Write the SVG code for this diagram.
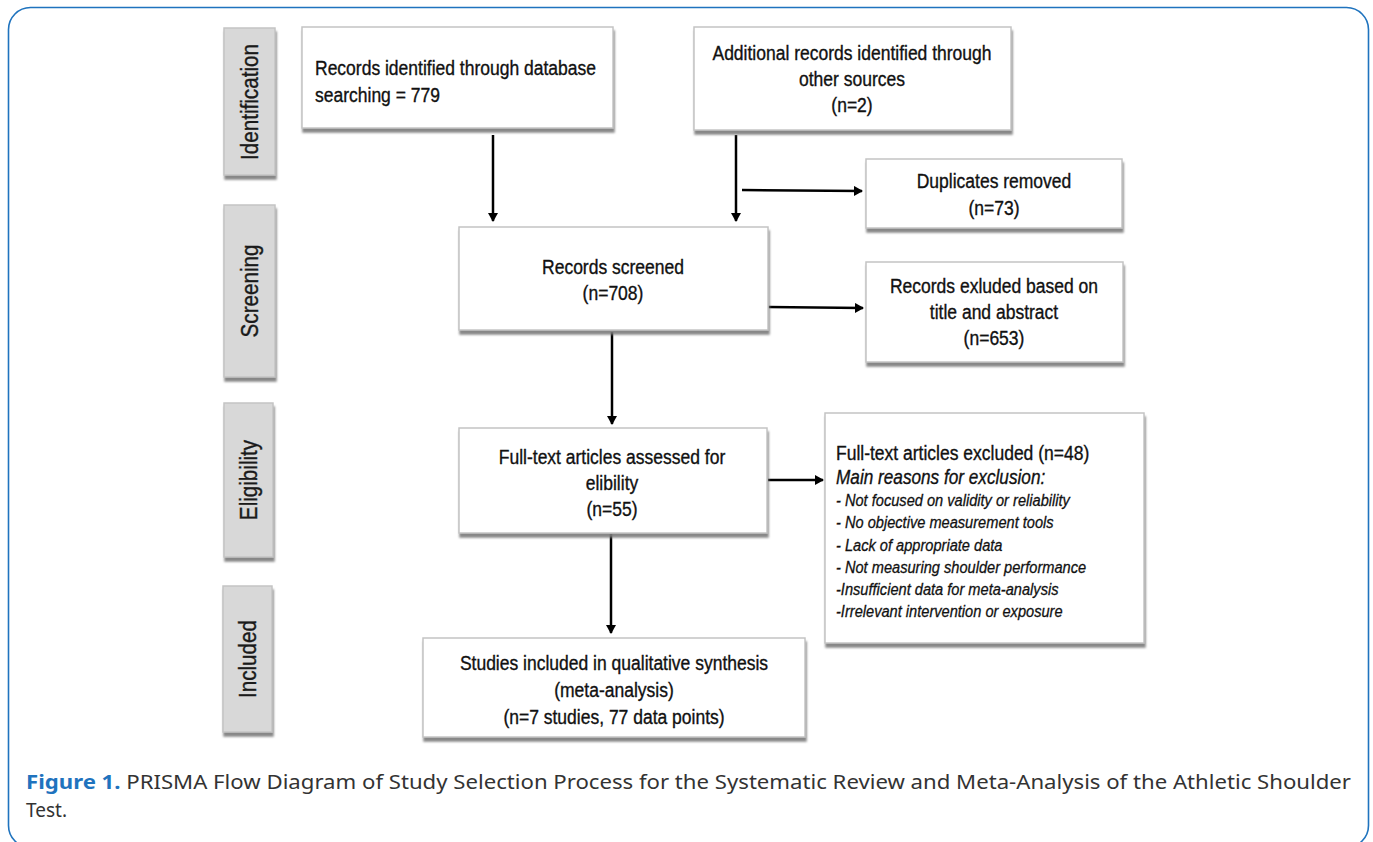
<svg xmlns="http://www.w3.org/2000/svg" width="1373" height="842" viewBox="0 0 1373 842">
<defs>
<filter id="sh" x="-10%" y="-10%" width="120%" height="130%">
<feDropShadow dx="1" dy="4" stdDeviation="1.2" flood-color="#7a7a7a" flood-opacity="0.9"/>
</filter>
<marker id="ah" markerWidth="10" markerHeight="10" refX="8" refY="5" orient="auto" markerUnits="userSpaceOnUse">
<path d="M0,0 L9,5 L0,10 z" fill="#000"/>
</marker>
<style>
.box{fill:#fff;stroke:#c4c4c4;stroke-width:1.5;filter:url(#sh)}
.phase{fill:#d8d8d8;stroke:#c4c4c4;stroke-width:1.5;filter:url(#sh)}
.t{font-family:"Liberation Sans",Arial,sans-serif;font-size:20px;fill:#111;stroke:#111;stroke-width:0.35}
.c{text-anchor:middle}
.ph{font-family:"Liberation Sans",Arial,sans-serif;font-size:24px;fill:#1a1a1a;stroke:#1a1a1a;stroke-width:0.4;text-anchor:middle}
.it{font-style:italic;font-size:17px;stroke-width:0.3}
.con{stroke:#000;stroke-width:2.5;fill:none;marker-end:url(#ah)}
.cap{font-family:"Noto Sans","Open Sans",sans-serif;font-size:19px;fill:#333}
</style>
</defs>
<rect width="1373" height="842" fill="#fff"/>
<rect x="8.5" y="7.5" width="1360" height="840" rx="22" fill="none" stroke="#1f73be" stroke-width="1.6"/>

<g id="phase-identification"><rect class="phase" x="224" y="28" width="51" height="147"/><text class="ph" transform="translate(258,102) rotate(-90) scale(0.86 1)">Identification</text></g>
<g id="phase-screening"><rect class="phase" x="224" y="205" width="51" height="172"/><text class="ph" transform="translate(258,291) rotate(-90) scale(0.86 1)">Screening</text></g>
<g id="phase-eligibility"><rect class="phase" x="224" y="403" width="49" height="154"/><text class="ph" transform="translate(257,480) rotate(-90) scale(0.86 1)">Eligibility</text></g>
<g id="phase-included"><rect class="phase" x="223" y="586" width="49" height="146"/><text class="ph" transform="translate(256,659) rotate(-90) scale(0.86 1)">Included</text></g>

<g id="connectors">
<line class="con" x1="493" y1="135" x2="493" y2="221"/>
<line class="con" x1="736" y1="135" x2="736" y2="221"/>
<line class="con" x1="742" y1="190" x2="862" y2="191"/>
<line class="con" x1="768" y1="307" x2="863" y2="308"/>
<line class="con" x1="612" y1="332" x2="612" y2="424"/>
<line class="con" x1="768" y1="480" x2="823" y2="480"/>
<line class="con" x1="611" y1="534" x2="611" y2="633"/>
</g>

<g id="records-identified"><rect class="box" x="302" y="27" width="311" height="101"/>
<text class="t" transform="translate(315 75) scale(0.875 1)">Records identified through database</text>
<text class="t" transform="translate(315 102) scale(0.875 1)">searching = 779</text></g>

<g id="additional-records"><rect class="box" x="694" y="27" width="317" height="103"/>
<text class="t c" transform="translate(852 60) scale(0.875 1)">Additional records identified through</text>
<text class="t c" transform="translate(852 86) scale(0.875 1)">other sources</text>
<text class="t c" transform="translate(852 112) scale(0.875 1)">(n=2)</text></g>

<g id="duplicates"><rect class="box" x="866" y="159" width="256" height="69"/>
<text class="t c" transform="translate(994 188) scale(0.875 1)">Duplicates removed</text>
<text class="t c" transform="translate(994 215) scale(0.875 1)">(n=73)</text></g>

<g id="records-screened"><rect class="box" x="459" y="227" width="309" height="103"/>
<text class="t c" transform="translate(613 274) scale(0.875 1)">Records screened</text>
<text class="t c" transform="translate(613 300) scale(0.875 1)">(n=708)</text></g>

<g id="records-excluded"><rect class="box" x="866" y="262" width="257" height="100"/>
<text class="t c" transform="translate(994 293) scale(0.875 1)">Records exluded based on</text>
<text class="t c" transform="translate(994 319) scale(0.875 1)">title and abstract</text>
<text class="t c" transform="translate(994 345) scale(0.875 1)">(n=653)</text></g>

<g id="fulltext-assessed"><rect class="box" x="459" y="428" width="308" height="105"/>
<text class="t c" transform="translate(612 464) scale(0.875 1)">Full-text articles assessed for</text>
<text class="t c" transform="translate(612 490) scale(0.875 1)">elibility</text>
<text class="t c" transform="translate(612 516) scale(0.875 1)">(n=55)</text></g>

<g id="fulltext-excluded"><rect class="box" x="825" y="413" width="319" height="230"/>
<text class="t" transform="translate(836 460) scale(0.875 1)">Full-text articles excluded (n=48)</text>
<text class="t" transform="translate(836 484) scale(0.86 1)" font-style="italic" font-size="18.5">Main reasons for exclusion:</text>
<text class="t it" transform="translate(836 506) scale(0.86 1)">- Not focused on validity or reliability</text>
<text class="t it" transform="translate(836 528) scale(0.86 1)">- No objective measurement tools</text>
<text class="t it" transform="translate(836 551) scale(0.86 1)">- Lack of appropriate data</text>
<text class="t it" transform="translate(836 573) scale(0.86 1)">- Not measuring shoulder performance</text>
<text class="t it" transform="translate(836 595) scale(0.86 1)">-Insufficient data for meta-analysis</text>
<text class="t it" transform="translate(836 617) scale(0.86 1)">-Irrelevant intervention or exposure</text></g>

<g id="studies-included"><rect class="box" x="423" y="638" width="382" height="99"/>
<text class="t c" transform="translate(614 670) scale(0.875 1)">Studies included in qualitative synthesis</text>
<text class="t c" transform="translate(614 697) scale(0.875 1)">(meta-analysis)</text>
<text class="t c" transform="translate(614 724) scale(0.875 1)">(n=7 studies, 77 data points)</text></g>

<g id="caption">
<text class="cap" x="26" y="789" textLength="1325" lengthAdjust="spacingAndGlyphs"><tspan fill="#1f73be" font-weight="bold">Figure 1.</tspan> PRISMA Flow Diagram of Study Selection Process for the Systematic Review and Meta-Analysis of the Athletic Shoulder</text>
<text class="cap" x="26" y="817">Test.</text>
</g>
</svg>
